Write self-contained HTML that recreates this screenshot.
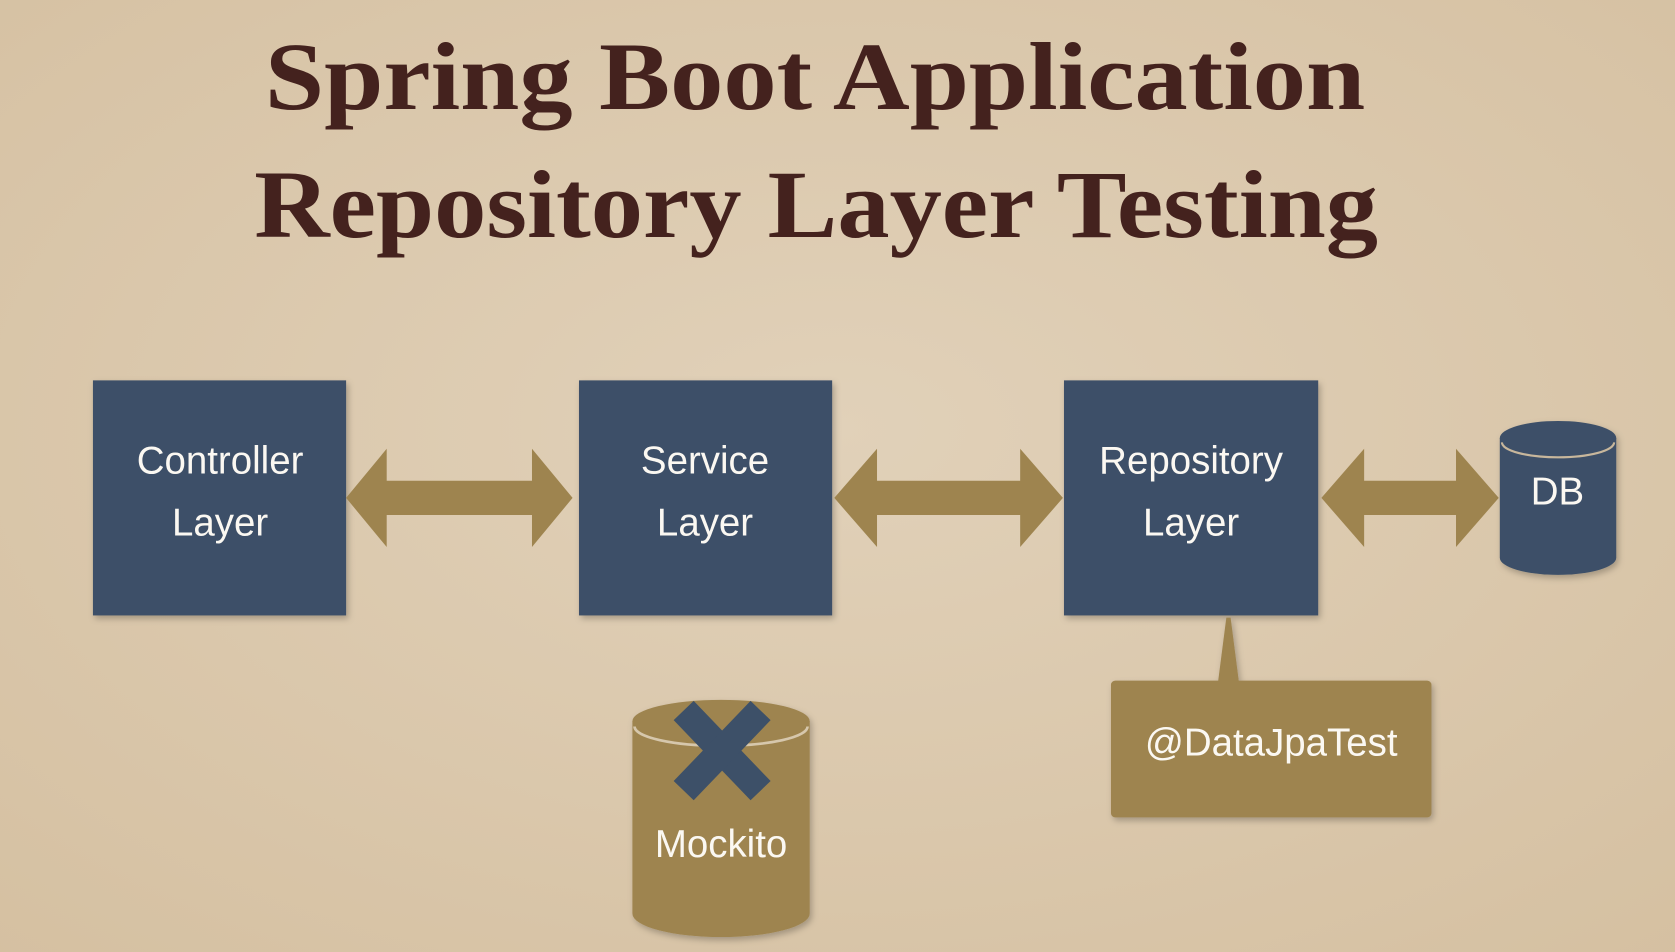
<!DOCTYPE html>
<html><head><meta charset="utf-8"><style>
html,body{margin:0;padding:0;width:1675px;height:952px;overflow:hidden;background:#dac7ab;}
svg{display:block}
</style></head><body>
<svg width="1675" height="952" viewBox="0 0 1568 891" preserveAspectRatio="none" xmlns="http://www.w3.org/2000/svg">
<defs>
<radialGradient id="bg" cx="50%" cy="45%" r="75%">
<stop offset="0" stop-color="#e1d1b9"/><stop offset="1" stop-color="#d5c0a1"/>
</radialGradient>
<filter id="sh" x="-10%" y="-10%" width="130%" height="130%"><feDropShadow dx="2" dy="3" stdDeviation="3" flood-color="#000" flood-opacity="0.25"/></filter>
</defs>
<rect width="1568" height="891" fill="url(#bg)"/>
<g font-family="Liberation Serif, serif" font-weight="bold" fill="#44221e" font-size="90">
<text x="248" y="102" textLength="1030" lengthAdjust="spacingAndGlyphs">Spring Boot Application</text>
<text x="238" y="222" textLength="1052" lengthAdjust="spacingAndGlyphs">Repository Layer Testing</text>
</g>
<g fill="#3d5068" filter="url(#sh)">
<rect x="87" y="356" width="237" height="220"/>
<rect x="542" y="356" width="237" height="220"/>
<rect x="996" y="356" width="238" height="220"/>
</g>
<g fill="#9e844f">
<polygon points="324,466 362,420 362,450 498,450 498,420 536,466 498,512 498,482 362,482 362,512"/>
<polygon points="781,466 821,420 821,450 955,450 955,420 995,466 955,512 955,482 821,482 821,512"/>
<polygon points="1237,466 1277,420 1277,450 1363,450 1363,420 1403,466 1363,512 1363,482 1277,482 1277,512"/>
</g>
<g filter="url(#sh)">
<path d="M1404,410 L1404,522 A54.5,16 0 0 0 1513,522 L1513,410 Z" fill="#3d5068"/>
<ellipse cx="1458.5" cy="410" rx="54.5" ry="16" fill="#3d5068"/>
</g>
<path d="M1406,414 A52.5,14 0 0 0 1511,414" fill="none" stroke="#c8b79c" stroke-width="2"/>
<g filter="url(#sh)" fill="#9e844f">
<polygon points="1148,578 1152,578 1160,640 1140,640"/>
<rect x="1040" y="637" width="300" height="128" rx="4"/>
</g>
<g filter="url(#sh)">
<path d="M592,675 L592,855 A83,22 0 0 0 758,855 L758,675 Z" fill="#9e844f"/>
<ellipse cx="675" cy="675" rx="83" ry="20" fill="#9e844f"/>
</g>
<path d="M594,680 A81,18 0 0 0 756,680" fill="none" stroke="#d6c7ac" stroke-width="2.5"/>
<g stroke="#3d5068" stroke-width="26">
<line x1="640" y1="665" x2="712" y2="740"/>
<line x1="712" y1="665" x2="640" y2="740"/>
</g>
<g font-family="Liberation Sans, sans-serif" fill="#fbf8f2" text-anchor="middle" font-size="36">
<text x="206" y="443">Controller</text>
<text x="206" y="501">Layer</text>
<text x="660" y="443">Service</text>
<text x="660" y="501">Layer</text>
<text x="1115" y="443">Repository</text>
<text x="1115" y="501">Layer</text>
<text x="1458" y="472">DB</text>
<text x="1190" y="707">@DataJpaTest</text>
<text x="675" y="802">Mockito</text>
</g>
</svg>
</body></html>
